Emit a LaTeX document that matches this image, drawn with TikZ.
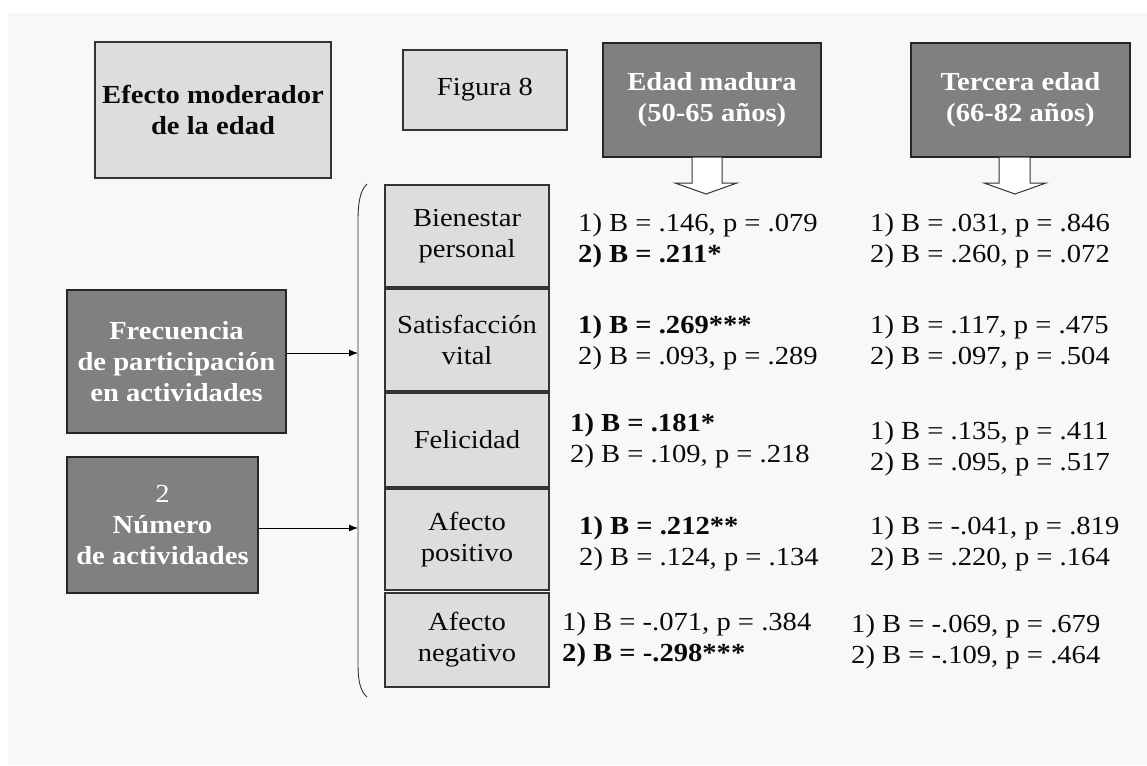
\documentclass[tikz,border=0pt]{standalone}
\usepackage{fontspec}
\setmainfont{Liberation Serif}[FakeStretch=1.1]
\usetikzlibrary{arrows.meta}
\definecolor{bg}{HTML}{F8F8F8}
\definecolor{lightbox}{HTML}{DDDDDD}
\definecolor{darkbox}{HTML}{808080}
\definecolor{edge}{HTML}{333333}
\definecolor{ink}{HTML}{0A0A0A}
\begin{document}
\begin{tikzpicture}[x=1pt,y=-1pt,
  every node/.style={font=\fontsize{26}{31}\selectfont},
  lbox/.style={draw=edge, line width=1.2pt, fill=lightbox, inner sep=0pt, align=center, text=ink},
  dbox/.style={draw=black!85, line width=1.2pt, fill=darkbox, inner sep=0pt, align=center, text=white, font=\fontsize{26}{31}\selectfont\bfseries},
  stat/.style={anchor=west, inner sep=0pt, align=left, text=ink},
  conn/.style={-{Latex[length=9pt,width=7pt]}, line width=0.9pt, draw=black},
  blockarrow/.style={draw=edge, fill=white, line width=1pt}
]
\useasboundingbox (0,0) rectangle (1147,765);
\fill[bg] (8,13) rectangle (1147,765);

% header boxes
\node[lbox, minimum width=236pt, minimum height=136pt, font=\fontsize{26}{31}\selectfont\bfseries] (efecto) at (213,110) {Efecto moderador\\de la edad};
\node[lbox, minimum width=164pt, minimum height=80pt] (figura) at (485,90) {Figura 8};
\node[dbox, minimum width=218pt, minimum height=114pt] (edad) at (712,100) {Edad madura\\(50-65 años)};
\node[dbox, minimum width=219pt, minimum height=114pt] (tercera) at (1020.5,100) {Tercera edad\\(66-82 años)};

% block arrows
\draw[blockarrow] (692,157) -- (692,183) -- (675,183) -- (706,194) -- (737,183) -- (722,183) -- (722,157) -- cycle;
\draw[blockarrow] (999,157) -- (999,183) -- (984,183) -- (1015,194) -- (1046,183) -- (1030,183) -- (1030,157) -- cycle;

% predictors
\node[dbox, minimum width=219pt, minimum height=143pt] (frec) at (176.5,361.5) {Frecuencia\\de participación\\en actividades};
\node[dbox, minimum width=191pt, minimum height=136pt] (num) at (162.5,525) {{\mdseries 2}\\Número\\de actividades};

% outcome boxes
\node[lbox, minimum width=164pt, minimum height=102pt] (o1) at (467,236) {Bienestar\\personal};
\node[lbox, minimum width=164pt, minimum height=102pt] (o2) at (467,340) {Satisfacción\\vital};
\node[lbox, minimum width=164pt, minimum height=94pt] (o3) at (467,440) {Felicidad};
\node[lbox, minimum width=164pt, minimum height=101pt] (o4) at (467,539.5) {Afecto\\positivo};
\node[lbox, minimum width=164pt, minimum height=94pt] (o5) at (467,640) {Afecto\\negativo};

% bracket
\draw[edge, line width=0.9pt] (367,184) .. controls (360,190) and (358,204) .. (358,220) -- (358,664) .. controls (358,680) and (360,691) .. (367,697);
\coordinate (b1) at (358,353);
\coordinate (b2) at (358,528);
\draw[conn] (frec.east |- b1) -- (b1);
\draw[conn] (num.east |- b2) -- (b2);

% statistics: Edad madura
\node[stat] (m1) at (578,240.5) {1) B = .146, p = .079\\\textbf{2) B = .211*}};
\node[stat] (m2) at (578,343) {\textbf{1) B = .269***}\\2) B = .093, p = .289};
\node[stat] (m3) at (570,440.5) {\textbf{1) B = .181*}\\2) B = .109, p = .218};
\node[stat] (m4) at (579,544) {\textbf{1) B = .212**}\\2) B = .124, p = .134};
\node[stat] (m5) at (562,640) {1) B = -.071, p = .384\\\textbf{2) B = -.298***}};

% statistics: Tercera edad
\node[stat] (t1) at (870,240.5) {1) B = .031, p = .846\\2) B = .260, p = .072};
\node[stat] (t2) at (870,343) {1) B = .117, p = .475\\2) B = .097, p = .504};
\node[stat] (t3) at (870,449) {1) B = .135, p = .411\\2) B = .095, p = .517};
\node[stat] (t4) at (870,544) {1) B = -.041, p = .819\\2) B = .220, p = .164};
\node[stat] (t5) at (851,642) {1) B = -.069, p = .679\\2) B = -.109, p = .464};
\end{tikzpicture}
\end{document}
